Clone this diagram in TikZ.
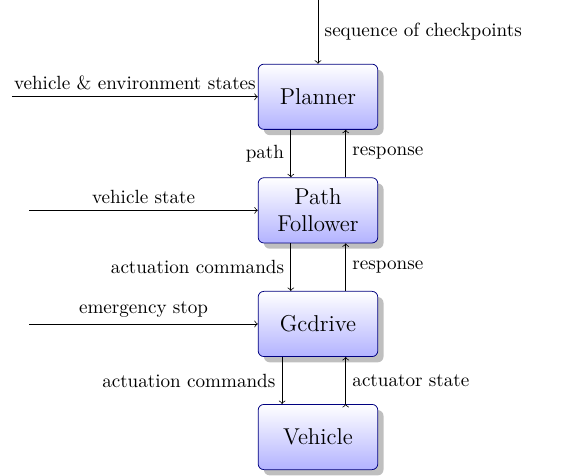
\documentclass[tikz,border=0pt]{standalone}
\usepackage{tikz}
\usetikzlibrary{arrows, positioning, shadows}
\tikzset{
  block/.style={draw=blue!50!black, rounded corners=3pt, top color=white,
    bottom color=blue!30, drop shadow={shadow xshift=3pt, shadow yshift=-3pt},
    minimum width=2.2cm, minimum height=1.2cm, align=center, font=\large},
  ->, >=to, auto
}

\begin{document}
\begin{tikzpicture}
\useasboundingbox (-5.85,-6.96) rectangle (4.71,1.78);
\node[block] (planner) at (0,0) {Planner};
\node[block] (follower) at (0,-2.09) {Path\\Follower};
\node[block] (gcdrive) at (0,-4.18) {Gcdrive};
\node[block] (vehicle) at (0,-6.26) {Vehicle};
\coordinate (checkpoints) at (0,1.78);
\coordinate (envstates) at (-5.63,0);
\coordinate (vstate) at (-5.31,-2.09);
\coordinate (estop) at (-5.31,-4.18);
\draw (checkpoints) edge node[right]{sequence of checkpoints} (planner)
      (envstates) edge node[above]{vehicle \& environment states} (planner)
      (vstate) edge node[above]{vehicle state} (follower)
      (estop) edge node[above]{emergency stop} (gcdrive)
      ([xshift=-0.5cm]planner.south) edge node[left]{path} ([xshift=-0.5cm]follower.north)
      ([xshift=0.51cm]follower.north) edge node[right]{response} ([xshift=0.51cm]planner.south)
      ([xshift=-0.5cm]follower.south) edge node[left]{actuation commands} ([xshift=-0.5cm]gcdrive.north)
      ([xshift=0.51cm]gcdrive.north) edge node[right]{response} ([xshift=0.51cm]follower.south)
      ([xshift=-0.66cm]gcdrive.south) edge node[left]{actuation commands} ([xshift=-0.66cm]vehicle.north)
      ([xshift=0.51cm]vehicle.north) edge node[right]{actuator state} ([xshift=0.51cm]gcdrive.south);
\end{tikzpicture}
\end{document}
